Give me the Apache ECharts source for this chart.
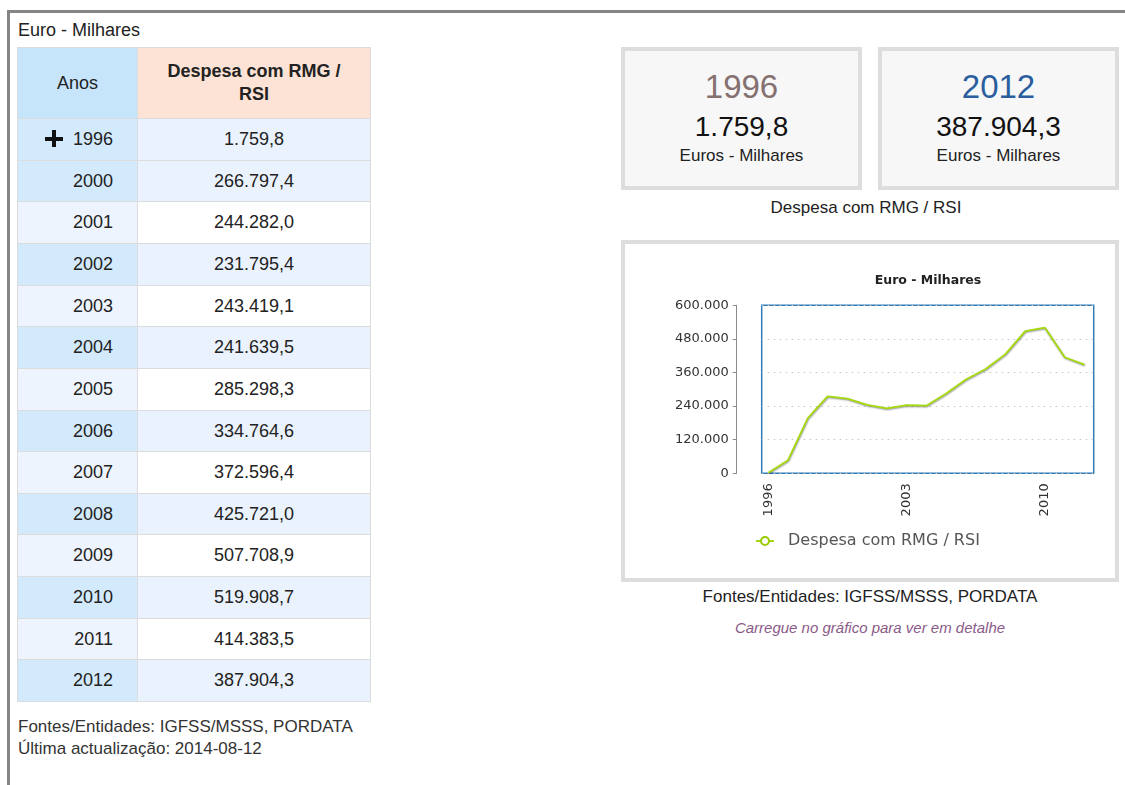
<!DOCTYPE html>
<html>
<head>
<meta charset="utf-8">
<script src="https://cdn.jsdelivr.net/npm/echarts@6/dist/echarts.min.js"></script>
<style>
  html, body { margin:0; padding:0; background:#fff; width:1125px; height:785px; overflow:hidden; }
  body { font-family: "Liberation Sans", Arial, sans-serif; color:#222; position:relative; }
  .abs { position:absolute; }
  .frame { left:7px; top:10px; width:1130px; height:790px; border-top:3px solid #858585; border-left:3px solid #858585; }
  .cell { position:absolute; box-sizing:border-box; border:1px solid #dcdcdc; font-size:18px; display:flex; align-items:center; }
  .card { position:absolute; box-sizing:border-box; border:4px solid #dddddd; background:#f7f7f7; top:47px; width:241px; height:143px; }
  .ctext { position:absolute; left:0; width:100%; text-align:center; line-height:1; }
  .center { position:absolute; text-align:center; white-space:nowrap; line-height:1; }
</style>
</head>
<body>
<div class="abs frame"></div>
<div class="abs" style="left:18px;top:21px;font-size:18px;line-height:1;color:#222;">Euro - Milhares</div>
<div id="table"></div>
<div class="abs" style="left:18px;top:716px;font-size:17px;line-height:22px;color:#333;">Fontes/Entidades: IGFSS/MSSS, PORDATA<br>Última actualização: 2014-08-12</div>

<div id="cards"></div>
<div class="center" style="left:621px;width:490px;top:199px;font-size:17px;color:#222;">Despesa com RMG / RSI</div>

<div class="abs" style="left:621px;top:240px;width:498px;height:342px;box-sizing:border-box;border:4px solid #dddddd;background:#fff;">
  <div id="chart" style="width:490px;height:334px;"></div>
</div>
<div class="center" style="left:621px;width:498px;top:588px;font-size:17px;color:#222;">Fontes/Entidades: IGFSS/MSSS, PORDATA</div>
<div class="center" style="left:621px;width:498px;top:620px;font-size:15px;font-style:italic;color:#8a5a88;">Carregue no gráfico para ver em detalhe</div>

<script>
// ---- data ----
const years = [1996, 1997, 1998, 1999, 2000, 2001, 2002, 2003, 2004, 2005, 2006, 2007, 2008, 2009, 2010, 2011, 2012];
const values = [1759.8, 47000, 197000, 275000, 266797.4, 244282.0, 231795.4, 243419.1, 241639.5, 285298.3, 334764.6, 372596.4, 425721.0, 507708.9, 519908.7, 414383.5, 387904.3];
const tableYears = [1996, 2000, 2001, 2002, 2003, 2004, 2005, 2006, 2007, 2008, 2009, 2010, 2011, 2012];
const xTickLabels = [1996, 2003, 2010];
const yTicks = [0, 120000, 240000, 360000, 480000, 600000];
const seriesName = 'Despesa com RMG / RSI';
const unitTitle = 'Euro - Milhares';
const cardUnit = 'Euros - Milhares';

// ---- helpers ----
function thousands(intStr) {
  return intStr.replace(/\B(?=(\d{3})+(?!\d))/g, '.');
}
function fmtPT(v) {
  const s = v.toFixed(1).split('.');
  return thousands(s[0]) + ',' + s[1];
}
function valueOf(y) { return values[years.indexOf(y)]; }

// ---- table ----
(function () {
  const t = document.getElementById('table');
  const X0 = 17, XM = 137, X1 = 371, Y0 = 47, YH = 118, YB = 701;
  const rowH = (YB - YH) / tableYears.length;
  let html = '';
  html += `<div class="cell" style="left:${X0}px;top:${Y0}px;width:${XM - X0 + 1}px;height:${YH - Y0 + 1}px;background:#c6e4fa;justify-content:center;">Anos</div>`;
  html += `<div class="cell" style="left:${XM}px;top:${Y0}px;width:${X1 - XM}px;height:${YH - Y0 + 1}px;background:#fde3d5;justify-content:center;text-align:center;font-weight:bold;line-height:23px;padding:0 22px;">${seriesName}</div>`;
  tableYears.forEach((y, i) => {
    const top = Math.round(YH + i * rowH);
    const nextTop = Math.round(YH + (i + 1) * rowH);
    const h = nextTop - top + 1;
    const blue = (i === 0) || (i % 2 === 1);
    const bgA = blue ? '#d3e9fc' : '#eef4fd';
    const bgV = blue ? '#eaf2fd' : '#ffffff';
    html += `<div class="cell" style="left:${X0}px;top:${top}px;width:${XM - X0 + 1}px;height:${h}px;background:${bgA};justify-content:flex-end;padding-right:24px;">${y}</div>`;
    html += `<div class="cell" style="left:${XM}px;top:${top}px;width:${X1 - XM}px;height:${h}px;background:${bgV};justify-content:center;">${fmtPT(valueOf(y))}</div>`;
  });
  // plus icon on first row
  html += `<div class="abs" style="left:45px;top:136.5px;width:18px;height:4px;background:#111;"></div>`;
  html += `<div class="abs" style="left:52px;top:130px;width:4px;height:17px;background:#111;"></div>`;
  t.innerHTML = html;
})();

// ---- cards ----
(function () {
  const c = document.getElementById('cards');
  const first = years[0], last = years[years.length - 1];
  const mk = (left, y, col) => `
    <div class="card" style="left:${left}px;">
      <div class="ctext" style="top:19px;font-size:33px;color:${col};">${y}</div>
      <div class="ctext" style="top:62px;font-size:28px;color:#111;">${fmtPT(valueOf(y))}</div>
      <div class="ctext" style="top:96px;font-size:17px;color:#222;">${cardUnit}</div>
    </div>`;
  c.innerHTML = mk(621, first, '#867171') + mk(878, last, '#2a5e9e');
})();

// ---- chart ----
const chart = echarts.init(document.getElementById('chart'), null, { renderer: 'canvas' });
const pxPerYear = 19.76;
const xMin = 1996 - 6.6 / pxPerYear;
const xMax = xMin + 332 / pxPerYear;
chart.setOption({
  animation: false,
  textStyle: { fontFamily: 'DejaVu Sans' },
  title: {
    text: unitTitle, left: 303, top: 30, textAlign: 'center', padding: 0,
    textStyle: { fontSize: 12.5, fontWeight: 'bold', color: '#222', fontFamily: 'DejaVu Sans' }
  },
  legend: {
    left: 130, top: 289, padding: 0,
    itemWidth: 18, itemHeight: 10,
    textStyle: { fontSize: 16, color: '#555', padding: [0, 0, 0, 9], fontFamily: 'DejaVu Sans' },
    data: [seriesName]
  },
  grid: {
    left: 136.7, top: 61.3, width: 332, height: 168,
    show: true, borderColor: '#2f7cb8', borderWidth: 1.5, backgroundColor: 'transparent'
  },
  xAxis: {
    type: 'value', min: xMin, max: xMax,
    axisLine: { show: false }, axisTick: { show: false }, splitLine: { show: false },
    axisLabel: {
      customValues: xTickLabels, rotate: 90, margin: 10, fontSize: 13, color: '#333',
      formatter: v => String(Math.round(v))
    }
  },
  yAxis: {
    type: 'value', min: yTicks[0], max: yTicks[yTicks.length - 1], interval: yTicks[1] - yTicks[0],
    offset: 25,
    axisLine: { show: true, lineStyle: { color: '#8a8a8a', width: 1 } },
    axisTick: { show: true, length: 4, lineStyle: { color: '#8a8a8a' } },
    axisLabel: { fontSize: 13, color: '#333', margin: 8, formatter: v => thousands(String(v)) },
    splitLine: { show: true, lineStyle: { type: [1.5, 4.5], color: '#c4c4c4', width: 1.2 } }
  },
  series: [{
    name: seriesName, type: 'line',
    data: years.map((y, i) => [y, values[i]]),
    symbol: 'emptyCircle', symbolSize: 7, showSymbol: false,
    itemStyle: { color: '#99cc00', borderWidth: 2 },
    lineStyle: { color: '#a6d90c', width: 1.8, shadowColor: 'rgba(0,0,0,0.4)', shadowBlur: 1.5, shadowOffsetX: 0.5, shadowOffsetY: 1 }
  }]
});
</script>
</body>
</html>
